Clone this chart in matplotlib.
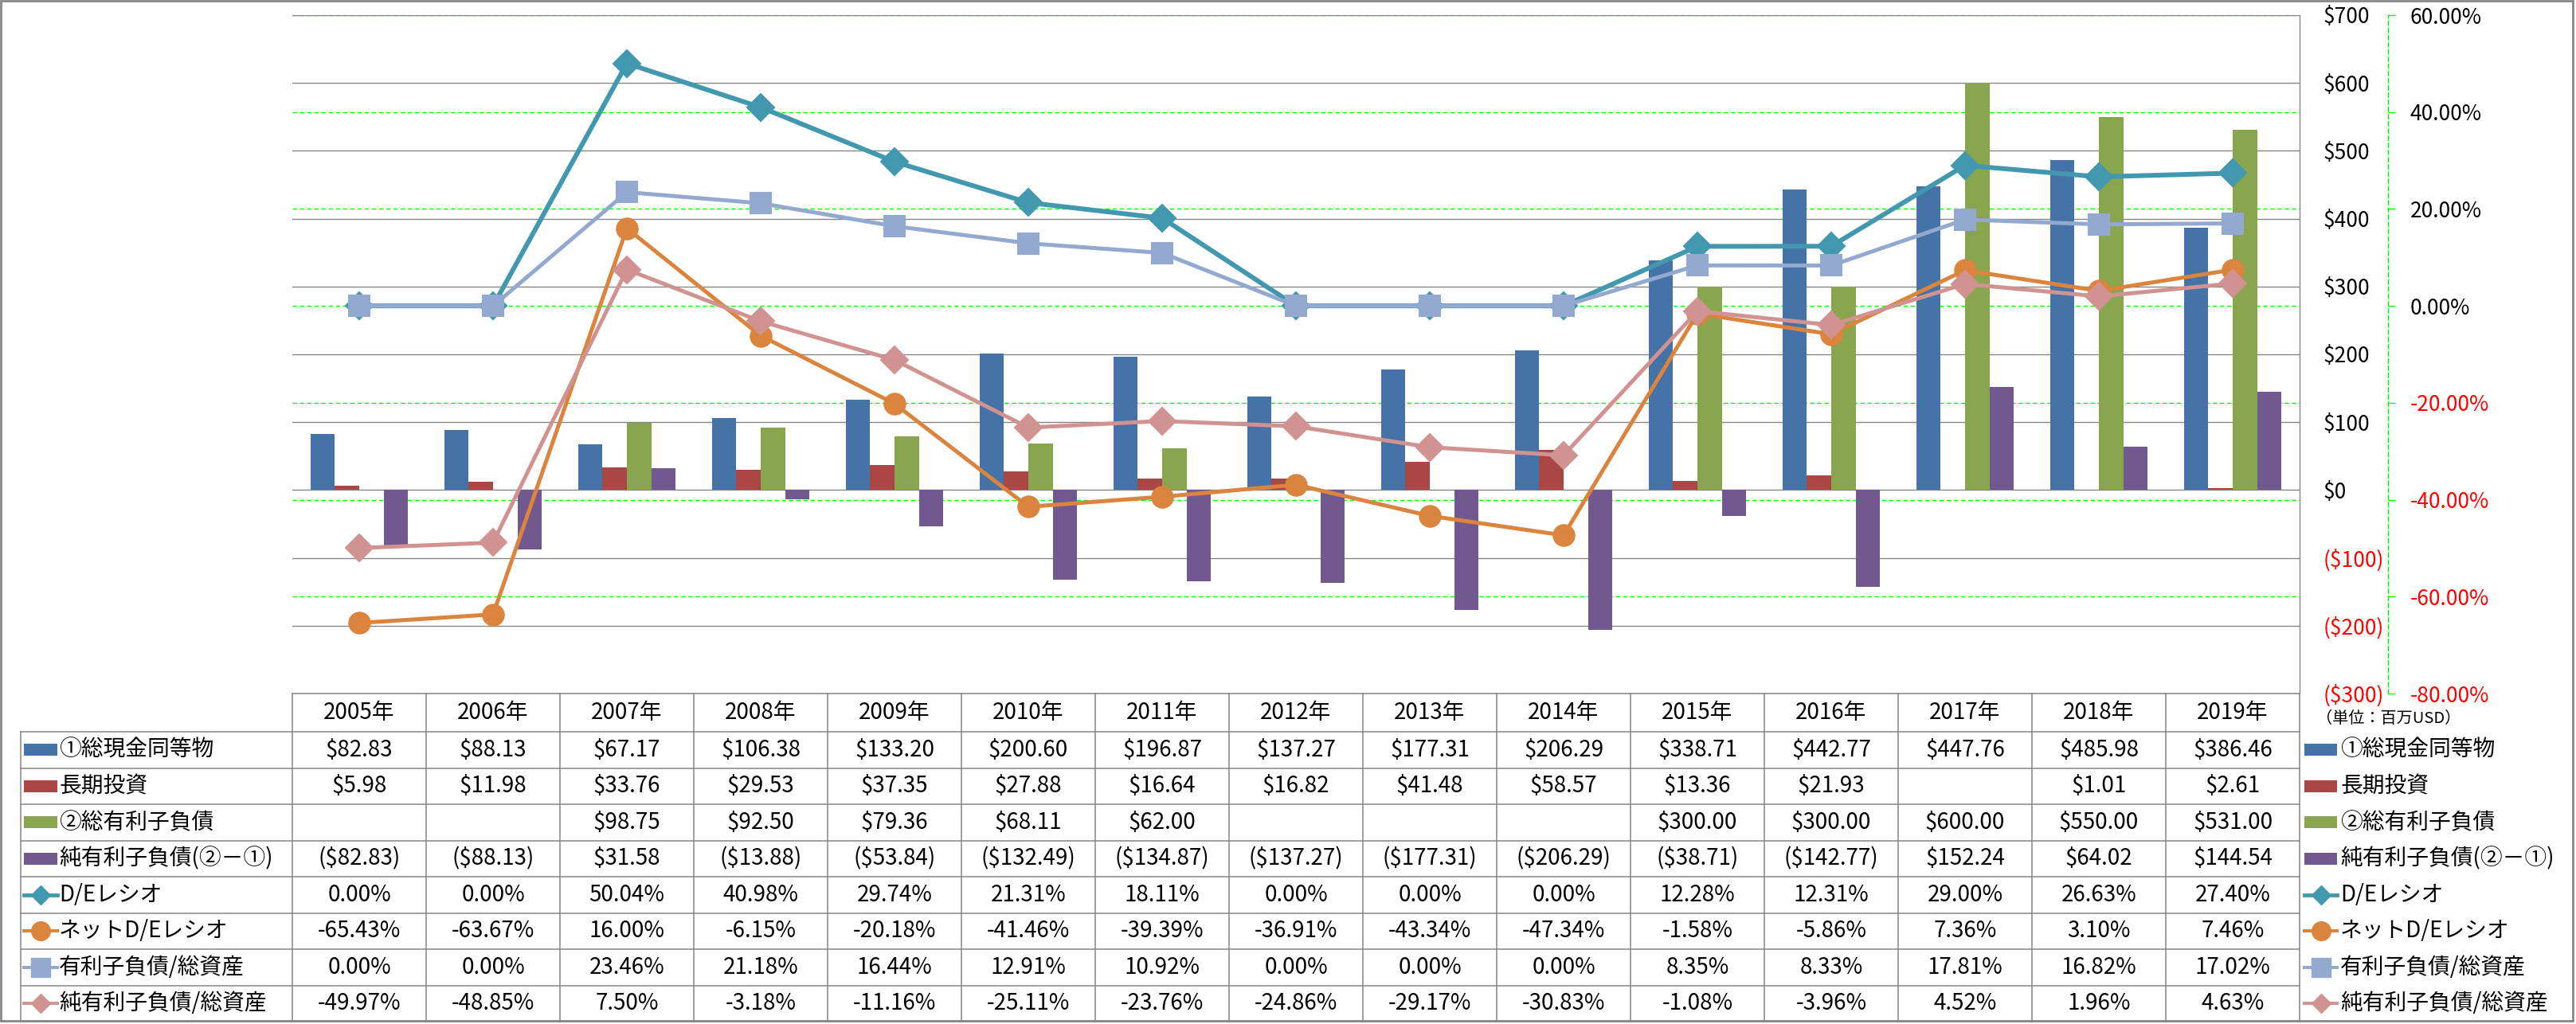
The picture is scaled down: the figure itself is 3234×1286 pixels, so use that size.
import matplotlib

matplotlib.use("Agg")

import matplotlib.pyplot as plt
import numpy as np
from matplotlib.lines import Line2D
from matplotlib.patches import Rectangle

plt.rcParams["font.family"] = ["Noto Sans CJK JP", "DejaVu Sans"]

# ---- data (単位: 百万USD / %) ----
years = ["2005年", "2006年", "2007年", "2008年", "2009年", "2010年", "2011年", "2012年",
         "2013年", "2014年", "2015年", "2016年", "2017年", "2018年", "2019年"]
cash = [82.83, 88.13, 67.17, 106.38, 133.20, 200.60, 196.87, 137.27,
        177.31, 206.29, 338.71, 442.77, 447.76, 485.98, 386.46]
invest = [5.98, 11.98, 33.76, 29.53, 37.35, 27.88, 16.64, 16.82,
          41.48, 58.57, 13.36, 21.93, None, 1.01, 2.61]
debt = [None, None, 98.75, 92.50, 79.36, 68.11, 62.00, None,
        None, None, 300.00, 300.00, 600.00, 550.00, 531.00]
net_debt = [-82.83, -88.13, 31.58, -13.88, -53.84, -132.49, -134.87, -137.27,
            -177.31, -206.29, -38.71, -142.77, 152.24, 64.02, 144.54]
de_ratio = [0.00, 0.00, 50.04, 40.98, 29.74, 21.31, 18.11, 0.00,
            0.00, 0.00, 12.28, 12.31, 29.00, 26.63, 27.40]
net_de_ratio = [-65.43, -63.67, 16.00, -6.15, -20.18, -41.46, -39.39, -36.91,
                -43.34, -47.34, -1.58, -5.86, 7.36, 3.10, 7.46]
debt_to_assets = [0.00, 0.00, 23.46, 21.18, 16.44, 12.91, 10.92, 0.00,
                  0.00, 0.00, 8.35, 8.33, 17.81, 16.82, 17.02]
net_debt_to_assets = [-49.97, -48.85, 7.50, -3.18, -11.16, -25.11, -23.76, -24.86,
                      -29.17, -30.83, -1.08, -3.96, 4.52, 1.96, 4.63]

usd_ticks = [-300, -200, -100, 0, 100, 200, 300, 400, 500, 600, 700]
pct_ticks = [-80, -60, -40, -20, 0, 20, 40, 60]

bar_series = [
    ("①総現金同等物", cash, "#4572A7"),
    ("長期投資", invest, "#AA4643"),
    ("②総有利子負債", debt, "#89A54E"),
    ("純有利子負債(②－①)", net_debt, "#71588F"),
]
line_series = [
    ("D/Eレシオ", de_ratio, "#4198AF", "D", 17, 12, 4.3),
    ("ネットD/Eレシオ", net_de_ratio, "#DB843D", "o", 19, 17, 3.6),
    ("有利子負債/総資産", debt_to_assets, "#93A9CF", "s", 19, 17, 3.6),
    ("純有利子負債/総資産", net_debt_to_assets, "#D19392", "D", 17, 12, 3.6),
]


def fmt_usd(v):
    if v is None:
        return ""
    return f"(${-v:,.2f})" if v < 0 else f"${v:,.2f}"


def fmt_pct(v):
    return f"{v:.2f}%"


def fmt_usd_tick(v):
    return f"(${-v})" if v < 0 else f"${v}"


# ---- layout (pixels) ----
W, H, DPI = 3234, 1286, 100
L, R, T, B = 367, 2887, 19, 871
COL = (R - L) / len(years)
ROW0, ROWH = 919, 45.5
GRID = "#868686"
FS = 20

fig = plt.figure(figsize=(W / DPI, H / DPI), dpi=DPI)
rect = [L / W, 1 - B / H, (R - L) / W, (B - T) / H]

ax_pct = fig.add_axes(rect)
ax_bar = ax_pct.twinx()
ax_line = ax_pct.twinx()
x = np.arange(len(years))
for a in (ax_pct, ax_bar, ax_line):
    a.set_xlim(-0.5, len(years) - 0.5)
    a.xaxis.set_visible(False)
    for s in a.spines.values():
        s.set_visible(False)

# percent axis (green dashed grid, far right)
ax_pct.set_ylim(-80, 60)
ax_pct.set_yticks(pct_ticks, labels=[f"{t:.2f}%" for t in pct_ticks])
ax_pct.yaxis.tick_right()
ax_pct.grid(axis="y", color="#00FF00", ls=(0, (4, 2.5)), lw=1)
ax_pct.spines["right"].set_visible(True)
ax_pct.spines["right"].set_position(("outward", 111 * 0.72))
ax_pct.spines["right"].set_color("#00FF00")
ax_pct.spines["right"].set_linestyle((0, (4, 2.5)))
ax_pct.spines["right"].set_linewidth(1)
ax_pct.tick_params(axis="y", right=True, left=False, labelright=True, labelleft=False,
                   length=6.5, width=1, color="#00FF00", pad=13.5, labelsize=19)
for lab, t in zip(ax_pct.get_yticklabels(), pct_ticks):
    lab.set_color("red" if t < 0 else "black")

# dollar axis (bars)
ax_bar.set_ylim(-300, 700)
ax_bar.set_yticks(usd_ticks, labels=[fmt_usd_tick(t) for t in usd_ticks])
ax_bar.grid(axis="y", color=GRID, lw=1)
ax_bar.set_axisbelow(True)
ax_bar.spines["right"].set_visible(True)
ax_bar.spines["right"].set_color(GRID)
ax_bar.spines["right"].set_linewidth(1)
ax_bar.tick_params(axis="y", length=0, pad=21, labelsize=19)
for lab, t in zip(ax_bar.get_yticklabels(), usd_ticks):
    lab.set_color("red" if t < 0 else "black")

bw = 1 / 5.5
for k, (label, vals, color) in enumerate(bar_series):
    ax_bar.bar(x + (k - 1.5) * bw, np.array(vals, dtype=float), bw, color=color, zorder=2)

# ratio lines
ax_line.set_ylim(-80, 60)
ax_line.yaxis.set_visible(False)
for label, vals, color, mk, ms, _, lw in line_series:
    ax_line.plot(x, vals, color=color, lw=lw, marker=mk, ms=ms, mfc=color, mec=color,
                 mew=1.5, solid_joinstyle="round")

# ---- data table + legend (pixel overlay) ----
ov = fig.add_axes([0, 0, 1, 1])
ov.set_xlim(0, W)
ov.set_ylim(H, 0)
ov.axis("off")
ov.patch.set_visible(False)

n_rows = len(bar_series) + len(line_series)
bottom = ROW0 + n_rows * ROWH
ov.plot([L, R], [B, B], color=GRID, lw=1.1)
for k in range(n_rows + 1):
    y = ROW0 + k * ROWH
    ov.plot([26, R], [y, y], color=GRID, lw=1.1)
ov.plot([26, 26], [ROW0, bottom], color=GRID, lw=1.1)
for i in range(len(years) + 1):
    xx = L + i * COL
    ov.plot([xx, xx], [B, bottom], color=GRID, lw=1.1)
for i, yr in enumerate(years):
    ov.text(L + (i + 0.5) * COL, (B + ROW0) / 2, yr, ha="center", va="center", fontsize=FS)

rows = [(lab, vals, fmt_usd, ("bar", c)) for lab, vals, c in bar_series]
rows += [(lab, vals, fmt_pct, ("line", c, mk, lms, lw))
         for lab, vals, c, mk, ms, lms, lw in line_series]


def draw_key(x0, x1, yc, key):
    if key[0] == "bar":
        ov.add_patch(Rectangle((x0, yc - 7.5), x1 - x0, 15, color=key[1], lw=0))
    else:
        _, c, mk, lms, lw = key
        ov.add_line(Line2D([x0, x1], [yc, yc], color=c, lw=lw * 0.8))
        ov.add_line(Line2D([(x0 + x1) / 2], [yc], color=c, marker=mk, ms=lms,
                           mfc=c, mec=c, ls="none"))


for k, (label, vals, fmt, key) in enumerate(rows):
    yc = ROW0 + (k + 0.5) * ROWH
    draw_key(30, 72, yc, key)
    ov.text(74, yc, label, ha="left", va="center", fontsize=FS)
    for i, v in enumerate(vals):
        ov.text(L + (i + 0.5) * COL, yc, fmt(v) if v is not None else "",
                ha="center", va="center", fontsize=FS)
    # legend on the right
    draw_key(2893, 2934, yc, key)
    ov.text(2938, yc, label, ha="left", va="center", fontsize=FS)

ov.text(2908, 903, "（単位：百万USD）", ha="left", va="center", fontsize=14.5)

# outer chart border
ov.add_patch(Rectangle((1, 1), W - 5, H - 5, fill=False, ec=GRID, lw=2))

fig.savefig("out.png", dpi=DPI)
